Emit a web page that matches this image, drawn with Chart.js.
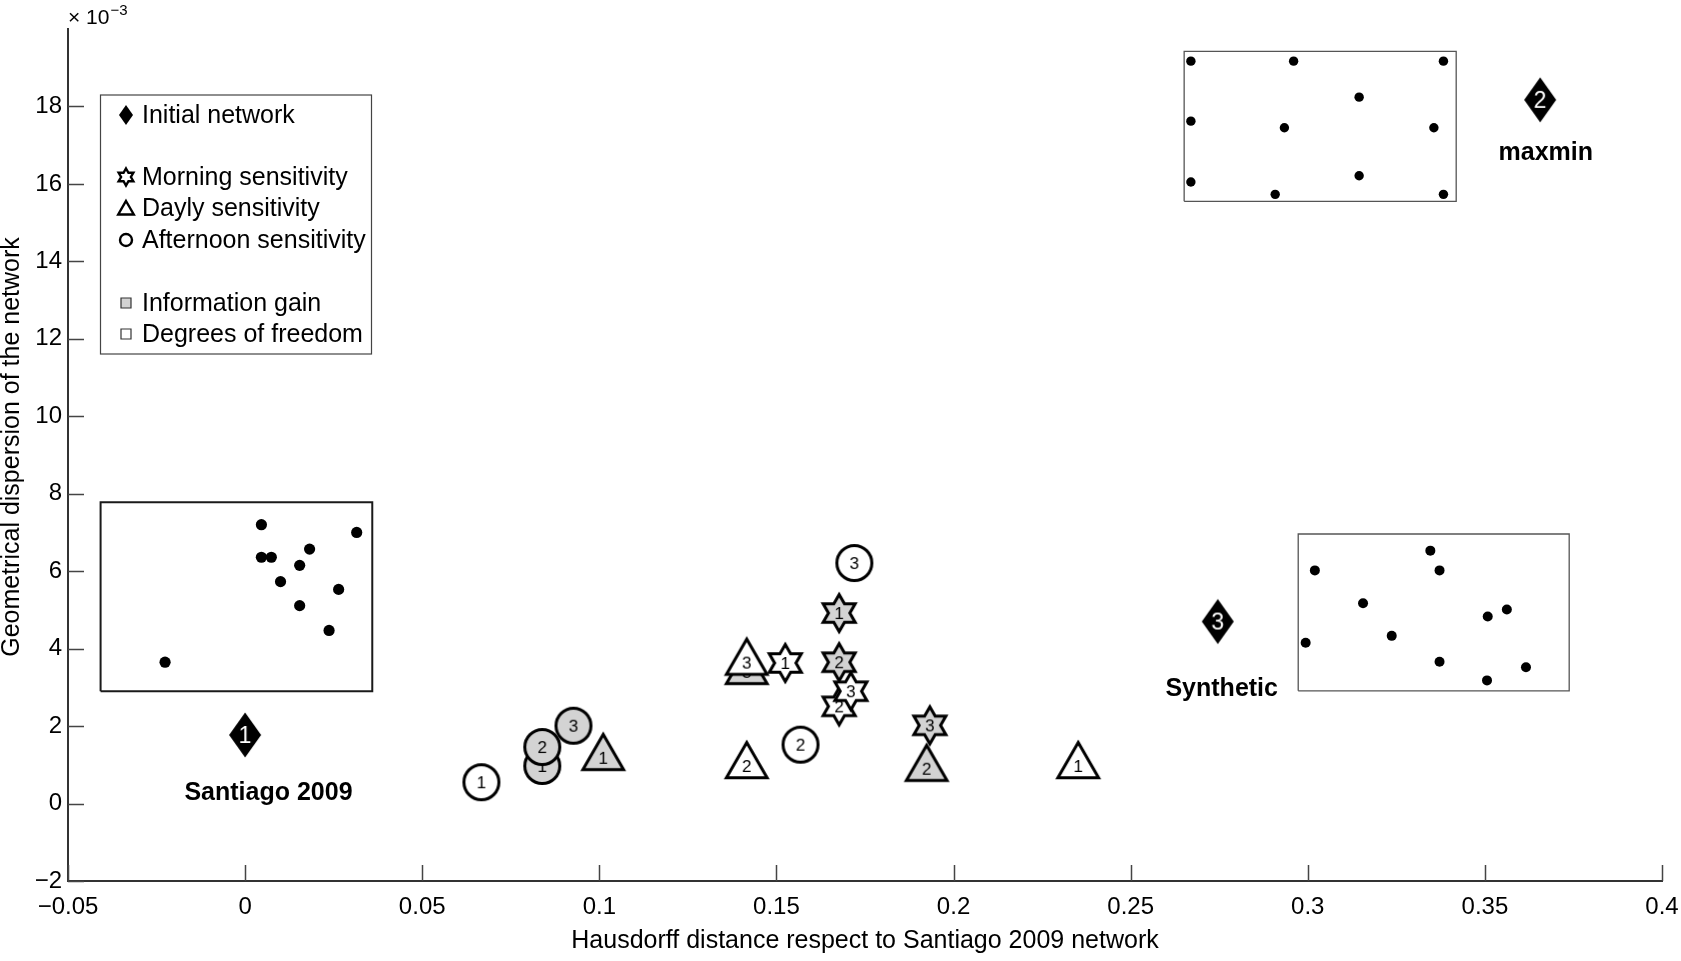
<!DOCTYPE html>
<html><head><meta charset="utf-8">
<script src="https://cdn.jsdelivr.net/npm/chart.js@4.4.1/dist/chart.umd.min.js"></script>
<style>html,body{margin:0;padding:0;background:#fff;}canvas{display:block;}</style>
</head><body>
<canvas id="c" width="1681" height="961"></canvas>
<script>
// ---------- DATA ----------
const xTickValues = [-0.05, 0, 0.05, 0.1, 0.15, 0.2, 0.25, 0.3, 0.35, 0.4];
const xTickLabels = ['\u22120.05', '0', '0.05', '0.1', '0.15', '0.2', '0.25', '0.3', '0.35', '0.4'];
const yTickValues = [-2, 0, 2, 4, 6, 8, 10, 12, 14, 16, 18];
const yTickLabels = ['\u22122', '0', '2', '4', '6', '8', '10', '12', '14', '16', '18'];

const xTitle = 'Hausdorff distance respect to Santiago 2009 network';
const yTitle = 'Geometrical dispersion of the network';

// Initial networks (black diamonds)
const networkNames = ['Santiago 2009', 'maxmin', 'Synthetic'];
const networkNumbers = ['1', '2', '3'];
const initialX = [0.0, 0.3656, 0.2746];
const initialY = [1.77, 18.17, 4.70];
const networkLabelX = [0.0066, 0.3672, 0.2757];
const networkLabelY = [0.28, 16.79, 2.96];

// Sensitivity results, numbered 1..3 (network)
const runNumbers = ['1', '2', '3'];
const morningGainX = [0.1677, 0.1677, 0.1933];
const morningGainY = [4.92, 3.65, 2.02];
const morningDofX = [0.1525, 0.1677, 0.1710];
const morningDofY = [3.63, 2.51, 2.90];

const daylyGainX = [0.1011, 0.1924, 0.1416];
const daylyGainY = [1.18, 0.90, 3.40];
const daylyDofX = [0.2352, 0.1416, 0.1416];
const daylyDofY = [0.97, 0.97, 3.64];

const afternoonGainX = [0.0839, 0.0839, 0.0927];
const afternoonGainY = [0.97, 1.46, 2.01];
const afternoonDofX = [0.0667, 0.1568, 0.1720];
const afternoonDofY = [0.55, 1.52, 6.21];

// Inset station maps
const santiagoBoxX = [-0.0408, 0.0359];
const santiagoBoxY = [2.90, 7.78];
const santiagoStationsX = [0.0046, 0.0046, 0.0074, 0.0100, 0.0154, 0.0182, 0.0154, 0.0264, 0.0237, 0.0315, -0.0226];
const santiagoStationsY = [7.20, 6.36, 6.36, 5.73, 6.15, 6.57, 5.11, 5.53, 4.47, 7.00, 3.65];

const maxminBoxX = [0.2651, 0.3419];
const maxminBoxY = [15.55, 19.42];
const maxminStationsX = [0.2670, 0.2960, 0.3383, 0.3145, 0.2670, 0.2934, 0.3356, 0.3145, 0.2670, 0.2908, 0.3383];
const maxminStationsY = [19.17, 19.17, 19.17, 18.24, 17.62, 17.45, 17.45, 16.21, 16.05, 15.73, 15.73];

const syntheticBoxX = [0.2973, 0.3738];
const syntheticBoxY = [2.91, 6.96];
const syntheticStationsX = [0.3346, 0.3020, 0.3372, 0.3156, 0.3562, 0.3508, 0.3237, 0.2994, 0.3372, 0.3616, 0.3506];
const syntheticStationsY = [6.53, 6.02, 6.02, 5.17, 5.01, 4.83, 4.33, 4.15, 3.66, 3.52, 3.18];

const legendEntries = [
  ['diamond', 'Initial network'],
  null,
  ['star', 'Morning sensitivity'],
  ['triangle', 'Dayly sensitivity'],
  ['circle', 'Afternoon sensitivity'],
  null,
  ['graysq', 'Information gain'],
  ['whitesq', 'Degrees of freedom']
];

// ---------- STYLE ----------
const FONT = '"Liberation Sans", Arial, Helvetica, sans-serif';
const GRAY = '#d3d3d3';

function hexagram(g, cx, cy, R) {
  const r = R / Math.sqrt(3);
  for (let k = 0; k < 12; k++) {
    const a = -Math.PI / 2 + k * Math.PI / 6;
    const d = k % 2 === 0 ? R : r;
    const px = cx + d * Math.cos(a), py = cy + d * Math.sin(a);
    if (k === 0) g.moveTo(px, py); else g.lineTo(px, py);
  }
  g.closePath();
}
function triangle(g, cx, cy, r) {
  const s = Math.sin(Math.PI / 3);
  g.moveTo(cx, cy - r);
  g.lineTo(cx + r * s, cy + r / 2);
  g.lineTo(cx - r * s, cy + r / 2);
  g.closePath();
}

function makeMarker(shape, fill, label) {
  const S = 72;
  const c = document.createElement('canvas');
  c.width = S; c.height = S;
  const g = c.getContext('2d');
  const cx = S / 2, cy = S / 2;
  g.lineJoin = 'miter';
  g.lineWidth = 3;
  g.strokeStyle = '#000';
  g.fillStyle = fill;
  g.beginPath();
  let fs = 17, tc = '#000';
  if (shape === 'circle') g.arc(cx, cy, 17.5, 0, Math.PI * 2);
  else if (shape === 'triangle') triangle(g, cx, cy, 23.5);
  else if (shape === 'star') hexagram(g, cx, cy, 18.5);
  else if (shape === 'diamond') {
    g.moveTo(cx, cy - 22.5); g.lineTo(cx + 16, cy); g.lineTo(cx, cy + 22.5); g.lineTo(cx - 16, cy); g.closePath();
    fs = 23; tc = '#fff';
  }
  g.fill();
  if (shape !== 'diamond') g.stroke();
  g.fillStyle = tc;
  g.font = fs + 'px ' + FONT;
  g.textAlign = 'center';
  g.textBaseline = 'alphabetic';
  g.fillText(label, cx, cy + fs * 0.36);
  return c;
}

function pts(xs, ys) { return xs.map((x, i) => ({ x: x, y: ys[i] })); }
function rect(bx, by) {
  return [
    { x: bx[0], y: by[0] }, { x: bx[1], y: by[0] }, { x: bx[1], y: by[1] },
    { x: bx[0], y: by[1] }, { x: bx[0], y: by[0] }
  ];
}
function markerSet(label, xs, ys, shape, fill) {
  return {
    label: label, data: pts(xs, ys),
    pointStyle: runNumbers.map(n => makeMarker(shape, fill, n)),
    pointRadius: 18, showLine: false
  };
}
function stationSet(xs, ys, r) {
  return { data: pts(xs, ys), pointStyle: 'circle', pointRadius: r, pointBackgroundColor: '#000', pointBorderWidth: 0, showLine: false };
}
function boxSet(bx, by, color, w) {
  return { data: rect(bx, by), showLine: true, pointRadius: 0, borderColor: color, borderWidth: w, fill: false, tension: 0 };
}

// first dataset is drawn on top
const datasets = [
  markerSet('Afternoon DoF', afternoonDofX, afternoonDofY, 'circle', '#fff'),
  markerSet('Afternoon gain', afternoonGainX, afternoonGainY, 'circle', GRAY),
  markerSet('Dayly DoF', daylyDofX, daylyDofY, 'triangle', '#fff'),
  markerSet('Dayly gain', daylyGainX, daylyGainY, 'triangle', GRAY),
  markerSet('Morning DoF', morningDofX, morningDofY, 'star', '#fff'),
  markerSet('Morning gain', morningGainX, morningGainY, 'star', GRAY),
  { label: 'Initial network', data: pts(initialX, initialY),
    pointStyle: networkNumbers.map(n => makeMarker('diamond', '#000', n)), pointRadius: 18, showLine: false },
  stationSet(santiagoStationsX, santiagoStationsY, 5.6),
  stationSet(maxminStationsX, maxminStationsY, 4.7),
  stationSet(syntheticStationsX, syntheticStationsY, 5),
  boxSet(santiagoBoxX, santiagoBoxY, '#1a1a1a', 2),
  boxSet(maxminBoxX, maxminBoxY, '#555', 1.3),
  boxSet(syntheticBoxX, syntheticBoxY, '#555', 1.3)
];

const decorPlugin = {
  id: 'decor',
  afterDraw(chart) {
    const g = chart.ctx;
    const xs = chart.scales.x, ys = chart.scales.y;
    const area = chart.chartArea;
    g.save();
    // inward tick marks
    g.strokeStyle = '#444';
    g.lineWidth = 1.5;
    g.beginPath();
    xTickValues.forEach(v => {
      const px = Math.round(xs.getPixelForValue(v)) + 0.5;
      g.moveTo(px, area.bottom); g.lineTo(px, area.bottom - 16);
    });
    yTickValues.forEach(v => {
      const py = Math.round(ys.getPixelForValue(v)) + 0.5;
      g.moveTo(area.left, py); g.lineTo(area.left + 16, py);
    });
    g.stroke();

    // y axis title
    g.save();
    g.translate(12, 447);
    g.rotate(-Math.PI / 2);
    g.fillStyle = '#000';
    g.font = '25px ' + FONT;
    g.textAlign = 'center';
    g.textBaseline = 'middle';
    g.fillText(yTitle, 0, 0);
    g.restore();

    // network labels
    g.fillStyle = '#000';
    g.font = 'bold 25px ' + FONT;
    g.textAlign = 'center';
    g.textBaseline = 'middle';
    networkNames.forEach((n, i) => {
      g.fillText(n, xs.getPixelForValue(networkLabelX[i]), ys.getPixelForValue(networkLabelY[i]));
    });

    // exponent
    g.textAlign = 'left';
    g.textBaseline = 'alphabetic';
    g.font = '21px ' + FONT;
    g.fillText('\u00d7 10', area.left, 24);
    const w = g.measureText('\u00d7 10').width;
    g.font = '15px ' + FONT;
    g.fillText('\u22123', area.left + w + 1, 15);

    // legend
    const L = 100.5, T = 95, R = 371.5, B = 354;
    g.fillStyle = '#fff';
    g.fillRect(L, T, R - L, B - T);
    g.strokeStyle = '#444';
    g.lineWidth = 1.2;
    g.strokeRect(L, T, R - L, B - T);
    const rowY = [115, 146, 177, 208, 240, 271, 303, 334];
    g.font = '25px ' + FONT;
    legendEntries.forEach((e, i) => {
      if (!e) return;
      const cy = rowY[i], cx = 126;
      g.beginPath();
      g.lineWidth = 2.4;
      g.strokeStyle = '#000';
      if (e[0] === 'diamond') {
        g.fillStyle = '#000';
        g.moveTo(cx, cy - 10); g.lineTo(cx + 7, cy); g.lineTo(cx, cy + 10); g.lineTo(cx - 7, cy); g.closePath(); g.fill();
      } else if (e[0] === 'star') {
        hexagram(g, cx, cy, 8.5); g.fillStyle = '#fff'; g.fill(); g.stroke();
      } else if (e[0] === 'triangle') {
        triangle(g, cx, cy + 2, 9); g.stroke();
      } else if (e[0] === 'circle') {
        g.arc(cx, cy, 6, 0, Math.PI * 2); g.stroke();
      } else {
        g.lineWidth = 1.2;
        g.strokeStyle = '#333';
        g.rect(cx - 5, cy - 5, 10, 10);
        g.fillStyle = e[0] === 'graysq' ? GRAY : '#fff';
        g.fill(); g.stroke();
      }
      g.fillStyle = '#000';
      g.textBaseline = 'middle';
      g.fillText(e[1], 142, cy + 1);
    });
    g.restore();
  }
};

new Chart(document.getElementById('c'), {
  type: 'scatter',
  data: { datasets: datasets },
  options: {
    responsive: false,
    animation: false,
    devicePixelRatio: 1,
    layout: { padding: { top: 29, right: 15.5, left: 0, bottom: 0 } },
    plugins: { legend: { display: false }, tooltip: { enabled: false } },
    scales: {
      x: {
        type: 'linear', min: -0.05, max: 0.4,
        afterBuildTicks: s => { s.ticks = xTickValues.map(v => ({ value: v })); },
        afterFit: s => { s.height = 80; s.paddingLeft = 0; s.paddingRight = 0; },
        ticks: { stepSize: 0.05, autoSkip: false, maxRotation: 0, padding: 12, color: '#000',
                 font: { family: FONT, size: 24 }, callback: (v, i) => xTickLabels[i] },
        grid: { display: false, drawTicks: false },
        border: { display: true, color: '#333', width: 2 },
        title: { display: true, text: xTitle, color: '#000', padding: { top: 0, bottom: 7 },
                 font: { family: FONT, size: 25, lineHeight: 1 } }
      },
      y: {
        type: 'linear', min: -2, max: 20,
        afterBuildTicks: s => { s.ticks = yTickValues.map(v => ({ value: v })); },
        afterFit: s => { s.width = 68; s.paddingTop = 0; s.paddingBottom = 0; },
        ticks: { stepSize: 2, autoSkip: false, padding: 6, color: '#000',
                 font: { family: FONT, size: 24 }, callback: (v, i) => yTickLabels[i] },
        grid: { display: false, drawTicks: false },
        border: { display: true, color: '#333', width: 2 },
        title: { display: false }
      }
    }
  },
  plugins: [decorPlugin]
});
</script>
</body></html>
